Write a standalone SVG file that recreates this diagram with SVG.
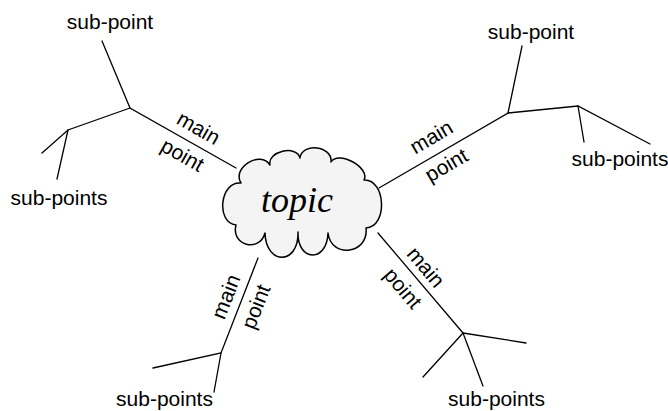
<svg xmlns="http://www.w3.org/2000/svg" width="668" height="411" viewBox="0 0 668 411">
<style>
.ln{stroke:#000;stroke-width:1.3;fill:none;stroke-linecap:round}
.t{font-family:"Liberation Sans",Arial,Helvetica,sans-serif;font-size:21px;fill:#000;text-anchor:middle}
.topic{font-family:"Liberation Serif","Times New Roman",serif;font-style:italic;font-size:36px;fill:#000;text-anchor:middle}
</style>
<rect width="668" height="411" fill="#fff"/>
<g id="connectors">
  <polyline class="ln" points="236,168 130,108 102,41"/>
  <polyline class="ln" points="130,108 68,130 42,153"/>
  <line class="ln" x1="68" y1="130" x2="57" y2="179"/>
  <polyline class="ln" points="379,188 508,113 522,46"/>
  <polyline class="ln" points="508,113 578,106 650,144"/>
  <line class="ln" x1="578" y1="106" x2="584" y2="142"/>
  <polyline class="ln" points="258,258 221,353 153,368"/>
  <line class="ln" x1="221" y1="353" x2="214" y2="392"/>
  <line class="ln" x1="378" y1="233" x2="463" y2="333"/>
  <line class="ln" x1="463" y1="333" x2="526" y2="343"/>
  <line class="ln" x1="463" y1="333" x2="423" y2="377"/>
  <line class="ln" x1="463" y1="333" x2="483" y2="386"/>
</g>
<g id="topic">
  <path d="M241,183 C231.5,167.7 260.5,149.7 270,165 C266.8,151.4 296.8,144.4 300,158 C302,142 333,146 331,162 C337.7,149.7 370.7,167.7 364,180 C386,179 388,227 366,228 C369,254 331,259 328,233 C327,263 297,262 298,232 C299,265 266,266 265,233 C259.4,253.3 230.4,245.3 236,225 C215.2,222.5 220.2,180.5 241,183 Z" fill="#f4f4f4" stroke="#000" stroke-width="1.5" stroke-linejoin="round"/>
  <text class="topic" x="297" y="212">topic</text>
</g>
<g id="tl-labels">
  <text class="t" transform="translate(198,129) rotate(29.5)" y="6">main</text>
  <text class="t" transform="translate(182,156) rotate(29.5)" y="6">point</text>
  <text class="t" x="110" y="29">sub-point</text>
  <text class="t" x="59" y="205">sub-points</text>
</g>
<g id="tr-labels">
  <text class="t" transform="translate(432,138) rotate(-30.2)" y="6">main</text>
  <text class="t" transform="translate(447,166) rotate(-30.2)" y="6">point</text>
  <text class="t" x="531" y="39">sub-point</text>
  <text class="t" x="620" y="166">sub-points</text>
</g>
<g id="bl-labels">
  <text class="t" transform="translate(227,297) rotate(-68.7)" y="6">main</text>
  <text class="t" transform="translate(257,307) rotate(-68.7)" y="6">point</text>
  <text class="t" x="164.5" y="405.5">sub-points</text>
</g>
<g id="br-labels">
  <text class="t" transform="translate(425,268) rotate(49.6)" y="6">main</text>
  <text class="t" transform="translate(402,289) rotate(49.6)" y="6">point</text>
  <text class="t" x="496.5" y="406">sub-points</text>
</g>
</svg>
